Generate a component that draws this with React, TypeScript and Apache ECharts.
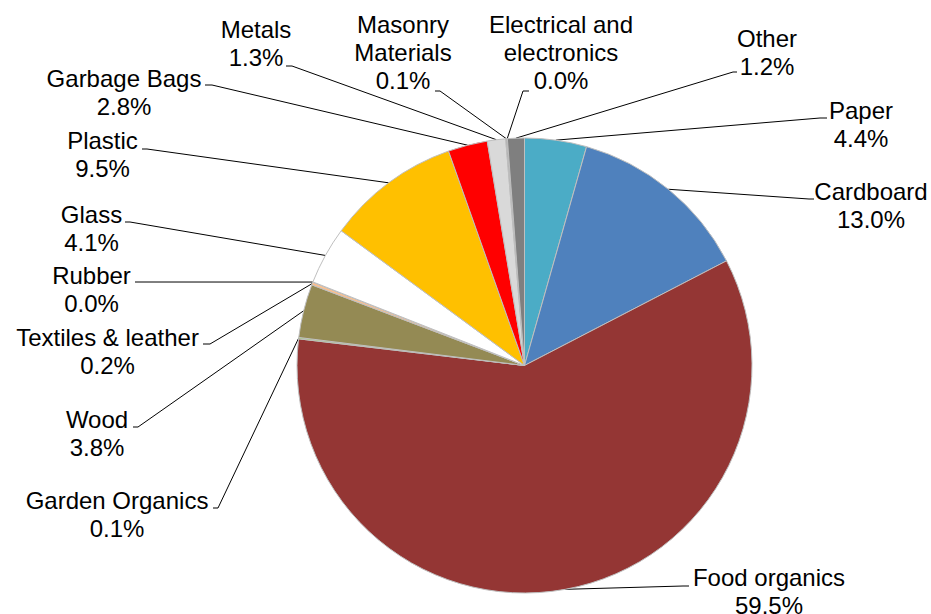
import React, { useEffect, useRef } from 'react';
import * as echarts from 'echarts';

// ---- data ----
const categories = [
  'Paper',
  'Cardboard',
  'Food organics',
  'Garden Organics',
  'Wood',
  'Textiles & leather',
  'Rubber',
  'Glass',
  'Plastic',
  'Garbage Bags',
  'Metals',
  'Masonry Materials',
  'Electrical and electronics',
  'Other',
];
const labelNames = [
  'Paper',
  'Cardboard',
  'Food organics',
  'Garden Organics',
  'Wood',
  'Textiles & leather',
  'Rubber',
  'Glass',
  'Plastic',
  'Garbage Bags',
  'Metals',
  'Masonry\nMaterials',
  'Electrical and\nelectronics',
  'Other',
];
const values = [4.4, 13.0, 59.5, 0.1, 3.8, 0.2, 0.02, 4.1, 9.5, 2.8, 1.3, 0.1, 0.02, 1.2];

// ---- styles / layout ----
const colors = [
  '#4BACC6',
  '#4F81BD',
  '#943634',
  '#92D050',
  '#948A54',
  '#FAC090',
  '#E6B9B8',
  '#FFFFFF',
  '#FFC000',
  '#FF0000',
  '#D9D9D9',
  '#A6A6A6',
  '#404040',
  '#7F7F7F',
];
const CX = 524.5;
const CY = 365.5;
const R = 227.5;
// label block centres
const labelPos: number[][] = [
  [861, 124.5],
  [871, 205],
  [769, 591],
  [117, 514],
  [97, 433.5],
  [107.5, 351],
  [91.5, 289],
  [91.5, 228.3],
  [102.5, 154],
  [124, 92],
  [256, 43],
  [403, 52.5],
  [561, 52.5],
  [767, 52.8],
];
// leader-line hooks near labels: [elbow, end]
const labelHooks: number[][][] = [
  [[820, 118], [827, 118]],
  [[809, 199], [814, 199]],
  [[683, 586], [689, 586]],
  [[218, 508], [213, 508]],
  [[138, 427], [133, 427]],
  [[210, 344], [203, 344]],
  [[140, 282], [135, 282]],
  [[130, 222], [125, 222]],
  [[147, 149], [142, 149]],
  [[212, 85], [205, 85]],
  [[292, 66], [286, 66]],
  [[440, 91], [435, 91]],
  [[523, 91], [529, 91]],
  [[733, 72], [737, 72]],
];

export default function App() {
  const ref = useRef<HTMLDivElement>(null);
  useEffect(() => {
    if (!ref.current) return;
    const chart = echarts.init(ref.current, null, { renderer: 'svg' });
    const total = values.reduce((a, b) => a + b, 0);
    const startPoint = (i: number) => {
      let before = 0;
      for (let k = 0; k < i; k++) before += values[k];
      const f = (before + values[i] / 2) / total;
      const a = f * Math.PI * 2;
      return [CX + R * Math.sin(a), CY - R * Math.cos(a)];
    };
    chart.setOption({
      animation: false,
      backgroundColor: '#ffffff',
      series: [
        {
          type: 'pie',
          center: [CX, CY],
          radius: R,
          startAngle: 90,
          clockwise: true,
          avoidLabelOverlap: false,
          minShowLabelAngle: 0,
          silent: true,
          data: categories.map((name, i) => ({
            name,
            value: values[i],
            itemStyle: { color: colors[i] },
          })),
          itemStyle: { borderColor: '#BFBFBF', borderWidth: 1 },
          label: {
            show: true,
            position: 'outside',
            formatter: (p: any) =>
              labelNames[p.dataIndex] + '\n' + values[p.dataIndex].toFixed(1) + '%',
            fontFamily: '"Liberation Sans", Arial, sans-serif',
            fontSize: 24,
            lineHeight: 28,
            color: '#000000',
            align: 'center',
          },
          labelLine: {
            show: true,
            length: 10,
            length2: 10,
            smooth: false,
            lineStyle: { color: '#000000', width: 1 },
          },
          labelLayout: (params: any) => {
            const i = params.dataIndex;
            const [x, y] = labelPos[i];
            const hook = labelHooks[i];
            return {
              x,
              y,
              align: 'center',
              verticalAlign: 'middle',
              labelLinePoints: [startPoint(i), hook[0], hook[1]],
            };
          },
          emphasis: { disabled: true },
        },
      ],
    });
    return () => chart.dispose();
  }, []);
  return (
    <div
      ref={ref}
      style={{ position: 'fixed', left: 0, top: 0, width: 931, height: 614, background: '#fff' }}
    />
  );
}
